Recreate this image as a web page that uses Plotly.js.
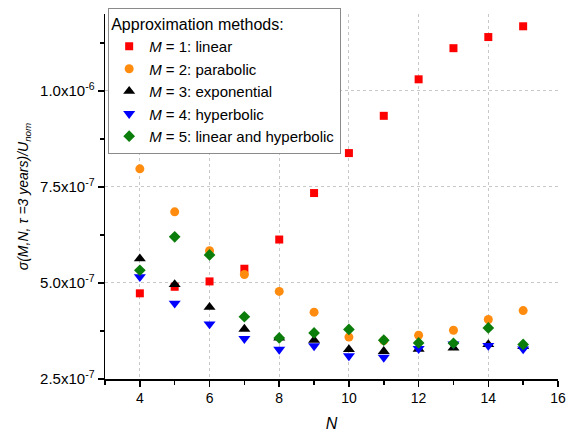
<!DOCTYPE html>
<html><head><meta charset="utf-8">
<script src="https://cdn.plot.ly/plotly-3.0.1.min.js"></script>
<style>body{margin:0;padding:0;background:#fff}#chart{width:566px;height:433px}</style>
</head><body><div id="chart"></div>
<script>
const N = [4,5,6,7,8,9,10,11,12,13,14,15];
const m1_linear = [4.73e-7,4.90e-7,5.04e-7,5.37e-7,6.13e-7,7.34e-7,8.38e-7,9.35e-7,1.03e-6,1.111e-6,1.14e-6,1.168e-6];
const m2_parabolic = [7.97e-7,6.85e-7,5.84e-7,5.22e-7,4.78e-7,4.24e-7,3.59e-7,3.50e-7,3.64e-7,3.77e-7,4.05e-7,4.28e-7];
const m3_exponential = [5.63e-7,4.96e-7,4.37e-7,3.80e-7,3.57e-7,3.51e-7,3.27e-7,3.22e-7,3.28e-7,3.31e-7,3.40e-7,3.35e-7];
const m4_hyperbolic = [5.16e-7,4.47e-7,3.93e-7,3.55e-7,3.27e-7,3.36e-7,3.10e-7,3.06e-7,3.29e-7,3.41e-7,3.37e-7,3.28e-7];
const m5_linhyp = [5.33e-7,6.20e-7,5.73e-7,4.12e-7,3.57e-7,3.70e-7,3.79e-7,3.51e-7,3.44e-7,3.43e-7,3.83e-7,3.40e-7];
const xTickVals = [4,6,8,10,12,14,16];
const yTickVals = [2.5e-7,5.0e-7,7.5e-7,1.0e-6];
const yTickText = ['2.5x10<sup>-7</sup>','5.0x10<sup>-7</sup>','7.5x10<sup>-7</sup>','1.0x10<sup>-6</sup>'];
const names = ['<i>M</i> = 1: linear','<i>M</i> = 2: parabolic','<i>M</i> = 3: exponential','<i>M</i> = 4: hyperbolic','<i>M</i> = 5: linear and hyperbolic'];

const series = [m1_linear,m2_parabolic,m3_exponential,m4_hyperbolic,m5_linhyp];
const styles = [
  {symbol:'square', color:'#ff0000', size:8},
  {symbol:'circle', color:'#ff8c0f', size:9},
  {symbol:'triangle-up', color:'#000000', size:10.5},
  {symbol:'triangle-down', color:'#0000ff', size:10.5},
  {symbol:'diamond', color:'#0a7d0a', size:9}
];
const traces = series.map((ys,i)=>({
  x:N, y:ys, type:'scatter', mode:'markers', name:names[i],
  marker:{symbol:styles[i].symbol, color:styles[i].color, size:styles[i].size, line:{width:0}}
}));

const fam = 'Liberation Sans, Arial, sans-serif';
const layout = {
  width:566, height:433,
  margin:{l:105, r:8, t:14, b:54},
  paper_bgcolor:'#fff', plot_bgcolor:'#fff',
  font:{family:fam, size:15, color:'#000'},
  showlegend:true,
  legend:{
    x:0.007, y:1.016, xanchor:'left', yanchor:'top',
    bgcolor:'#fff', bordercolor:'#8a8a8a', borderwidth:1,
    font:{family:fam, size:15, color:'#000'},
    title:{text:'Approximation methods:', font:{family:fam, size:16, color:'#000'}},
    tracegroupgap:0
  },
  xaxis:{
    range:[3,16], tickvals:xTickVals, ticks:'outside', ticklen:6, tickwidth:1.5, tickcolor:'#000',
    showline:true, linecolor:'#000', linewidth:1.5, mirror:false,
    showgrid:true, gridcolor:'#c8c8c8', griddash:'dot', gridwidth:1,
    zeroline:false,
    minor:{tickvals:[3,5,7,9,11,13,15], ticks:'outside', ticklen:4, tickcolor:'#000', showgrid:false},
    title:{text:'<i>N</i>', font:{family:fam, size:16}, standoff:12},
    tickfont:{family:fam, size:14}
  },
  yaxis:{
    range:[2.5e-7,1.2e-6], tickvals:yTickVals, ticktext:yTickText,
    ticks:'outside', ticklen:6, tickwidth:1.5, tickcolor:'#000',
    showline:true, linecolor:'#000', linewidth:1.5,
    showgrid:true, gridcolor:'#c8c8c8', griddash:'dot', gridwidth:1,
    zeroline:false,
    minor:{tickvals:[3.75e-7,6.25e-7,8.75e-7,1.125e-6], ticks:'outside', ticklen:4, tickcolor:'#000', showgrid:false},
    title:{text:'<i>σ(M,N, τ =3 years)/U<sub>nom</sub></i>', font:{family:fam, size:14}, standoff:8},
    tickfont:{family:fam, size:15}
  }
};
Plotly.newPlot('chart', traces, layout, {displayModeBar:false, staticPlot:true});
</script></body></html>
